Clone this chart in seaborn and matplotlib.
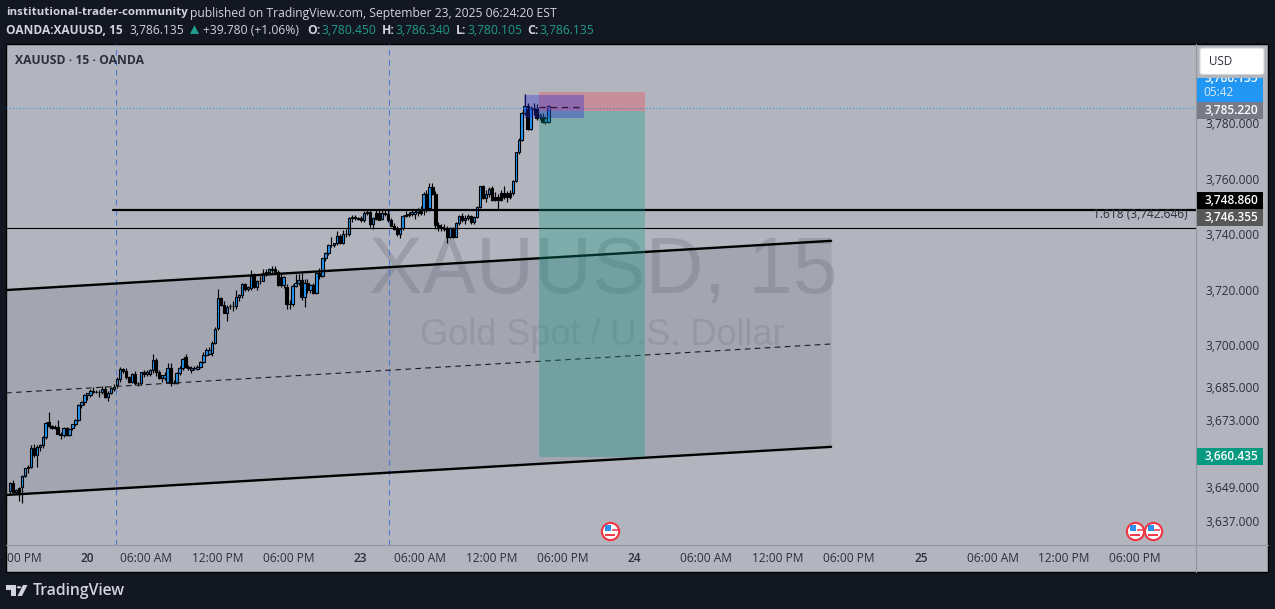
import matplotlib
matplotlib.use("Agg")
import matplotlib.pyplot as plt
import seaborn as sns
from matplotlib.lines import Line2D
from matplotlib.patches import Rectangle, Polygon, Circle, FancyBboxPatch

# 15 minute candles
open_ = [3647.8,3650.4,3647.4,3648.6,3649,3653,3655.8,3656.4,3663,3660.4,
    3663.6,3664,3667,3672.4,3671,3670.8,3670.5,3668.2,3667.8,3670.2,
    3667.8,3670.2,3671.6,3673.2,3678.6,3679.6,3682.2,3682.2,3683.6,3683.4,
    3683.2,3683.2,3684.2,3681.6,3683,3684.4,3685.8,3687.8,3691.4,3690.8,
    3688.6,3687,3689.8,3686.4,3686.4,3690.4,3689.6,3689.6,3691,3694.6,
    3690.4,3688.2,3688.2,3687,3691.8,3686.6,3686.4,3690,3691.8,3695.8,
    3692.2,3691.2,3691.8,3691.6,3692.4,3694,3696.6,3697,3697.2,3700.8,
    3706.1,3717,3714.5,3711.7,3714,3714,3714,3717.3,3718,3722,
    3720.2,3720.8,3725,3721,3723.1,3723.3,3725.9,3726.5,3727.5,3727.3,
    3726.5,3724.5,3721.8,3721,3714.9,3714.9,3721.5,3722.5,3723.5,3717.5,
    3722.3,3720,3721.7,3719,3725.9,3725,3731.3,3733.1,3736,3736,
    3736.7,3739.4,3737,3740,3740,3745.7,3746.3,3745.7,3745.7,3745,
    3747.5,3747.8,3743.5,3747.5,3747.5,3745.5,3747.5,3747.3,3745,3743,
    3741.8,3740,3742.3,3746.5,3746.9,3747.3,3747.3,3748,3749,3749,
    3754.5,3749.3,3757.1,3754.5,3743.3,3742.7,3742,3742.1,3739.1,3742.1,
    3739.1,3743.9,3746.5,3745.1,3745.7,3746.5,3744.5,3746.1,3749.9,3757.3,
    3753,3754.5,3756.5,3753.5,3753.5,3754.7,3754.7,3754.7,3754.7,3754.7,
    3759.1,3769.7,3773.9,3783.5,3786.2,3777.7,3785.3,3785.3,3782.3,3782.3,
    3780.2,3780.45]
high = [3651,3651.6,3648.5,3649,3653.5,3656,3657,3664,3664.5,3664,
    3664.5,3667.5,3672.5,3676,3671.5,3671.5,3673.2,3669,3670.5,3670.5,
    3670.4,3671.8,3673.5,3679,3680,3682.5,3683,3684.2,3685,3684,
    3684,3685.3,3685.5,3683.5,3685,3686,3688.5,3692.4,3692,3692,
    3689,3690.2,3690.8,3687,3690.6,3691,3691,3691.5,3697,3695.5,
    3691,3689.5,3690.5,3693.5,3693.5,3687.5,3690.5,3692.5,3695.5,3697,
    3693,3692.5,3692.5,3693,3694.5,3697.5,3699,3699.5,3701.5,3706.5,
    3720.3,3717.5,3716,3714.5,3715,3716,3720,3718.5,3722.5,3722.5,
    3721.5,3727,3726,3723.5,3725,3727.5,3727.5,3728,3728.5,3728.5,
    3727,3725.5,3725,3722,3716.5,3722,3725.5,3725.5,3726,3724,
    3724,3722,3722.5,3726.5,3728,3731.5,3733.5,3736.5,3739,3737,
    3741,3740,3741.5,3742,3746,3747,3747,3746.3,3746.5,3748.5,
    3749,3749,3746,3749,3749,3749,3749,3749,3745.8,3744,
    3743,3742,3747,3748.5,3748,3749,3749,3749.5,3750,3755,
    3756,3758.5,3758.5,3755.5,3744.5,3743.5,3743.5,3743,3742.5,3742.5,
    3744.5,3747,3747.5,3747,3747.3,3747,3746.5,3750,3757.5,3757.8,
    3756,3757,3757.5,3755,3754.5,3756,3757.5,3755.5,3756,3759.5,
    3769.7,3774.5,3783.8,3790.5,3787,3786,3787,3786.8,3783.5,3783.5,
    3782.5,3786.34]
low = [3647,3647,3646.5,3644,3643.4,3652.5,3654,3655.8,3660,3656.4,
    3662,3663,3666.5,3670.6,3669.8,3670,3668,3666.4,3667,3667.5,
    3667.5,3669.5,3671,3672.8,3677.5,3678.5,3680.5,3681.5,3683,3683,
    3681.5,3682.5,3681,3680,3682.5,3683.5,3684.8,3687,3690,3688,
    3686.5,3686.5,3685.8,3685.5,3685.8,3688.8,3689,3689,3690,3689,
    3688,3687,3687.5,3686.5,3685.5,3686,3686,3689.5,3691.2,3692,
    3691,3690,3691,3691,3692,3693.5,3696,3696.5,3696,3700.5,
    3705.5,3714,3711.5,3708.9,3713,3712.5,3713,3716,3717,3719.5,
    3719.5,3720,3720.5,3720,3722,3723,3725,3725.5,3726,3725.5,
    3721.5,3721,3720.5,3713,3713,3714,3721,3721.8,3716.5,3713.9,
    3719,3719,3718.5,3718.5,3724,3724.5,3730.5,3732.5,3735.5,3735.5,
    3736,3736.5,3736.5,3739,3739.5,3744.5,3745,3745,3744.5,3744.5,
    3747,3742.5,3742,3745,3745,3745,3746.5,3744.5,3742.8,3741.5,
    3739.5,3738.5,3741.5,3746,3746,3746.5,3745.5,3746.5,3747,3747,
    3748,3748.5,3754,3742,3741,3741,3741,3736.7,3738.8,3738.8,
    3738.9,3743.3,3744.5,3743.8,3745,3743.5,3743.8,3745.8,3749.5,3752.5,
    3751.5,3753.5,3752,3752,3749,3752,3752.5,3751.5,3752.5,3754,
    3758.8,3769,3773.5,3783,3777.5,3777.5,3783,3781,3781,3780,
    3779.8,3780.105]
close = [3650.4,3647.4,3648,3647,3653,3655.8,3656.4,3663,3660.4,3663.6,
    3664.2,3667,3672,3671,3670.2,3670.2,3668.2,3667.8,3670.2,3667.8,
    3670,3671.6,3673.2,3678.6,3679.8,3682.2,3682.8,3683.6,3683.4,3683.4,
    3683.4,3684.2,3681.6,3683,3684.6,3685.2,3687.8,3691.4,3690.8,3688.6,
    3687,3689.8,3686.4,3686.4,3690.4,3689.6,3690.6,3691,3694.6,3690.4,
    3688.2,3689.2,3689.4,3691.8,3686.6,3686.4,3690,3691.8,3695,3692.2,
    3691.8,3691.8,3691.8,3692.4,3694,3696.6,3698.4,3698.4,3700.8,3706,
    3717,3714.5,3711.5,3713.7,3714.2,3714,3717.3,3718,3722,3720.2,
    3721,3725,3720.9,3723.1,3723,3725.9,3726.5,3727.5,3727,3726.5,
    3721.8,3721.8,3724.5,3714.9,3715,3721.5,3722.5,3723.5,3717.5,3722.3,
    3720,3721.8,3719,3725.9,3725,3731.3,3733.1,3736,3736,3736.7,
    3739.4,3737,3740,3740,3745.7,3746.3,3745.7,3745.5,3745,3747.5,
    3747.8,3743.5,3745.7,3745.5,3745,3747.5,3747.3,3745,3743,3741.8,
    3740,3742,3746.5,3746.9,3747.3,3747.8,3748,3749,3747.5,3754.5,
    3749,3757.1,3754.5,3743.3,3742.7,3742.1,3742.1,3739.1,3742.1,3739.1,
    3743.9,3746.5,3745.1,3745.7,3746.5,3744.5,3746.1,3749.9,3757.3,3753,
    3754.5,3756.3,3752.3,3752.3,3752.3,3752.3,3753.5,3753.2,3753.5,3759.1,
    3769.7,3773.9,3783.5,3786.2,3777.7,3785.3,3785,3781.7,3782.9,3780.2,
    3781.9,3786.135]

# axis labels
price_ticks = [3780, 3760, 3740, 3720, 3700, 3685, 3673, 3649, 3637]
time_pos = [4.7, 25.9, 45.7, 69.8, 93.8, 117.6, 137.8, 162, 185.9, 209.8,
            233.9, 258.2, 282, 306.2, 330.4, 354.3, 378.2]
time_labels = ['00 PM', '20', '06:00 AM', '12:00 PM', '06:00 PM', '23', '06:00 AM',
               '12:00 PM', '06:00 PM', '24', '06:00 AM', '12:00 PM', '06:00 PM',
               '25', '06:00 AM', '12:00 PM', '06:00 PM']
session_breaks = [35.5, 127.55]
event_bars = [201.7, 378.2, 384.2]

# drawings on the chart
channel_x = [-1.3, 276]
channel_upper = [3719.9, 3737.6]
channel_mid = [3682.9, 3700.5]
channel_lower = [3646.2, 3663.5]
level_x = [34.6, 398.7]
level_price = [3748.7, 3748.7]
fib_x = [-1.3, 398.7]
fib_price = [3742.2, 3742.2]
last_price = 3785.4
short_x = [177.8, 213.4]
short_stop, short_entry, short_target = 3791.2, 3784.4, 3660
box_x = [172.8, 193]
box_price = [3781.8, 3790.1]

BG = '#b2b5be'
DARK = '#131722'
TXT = '#2c2f3a'
LIGHT = '#d1d4dc'
TEAL = '#1f9c8e'
W, H = 1275, 609


def fx(x):
    return x / W


def fy(y):
    return 1 - y / H


sns.set_theme(style="white")
plt.rcParams['font.family'] = ['Open Sans', 'DejaVu Sans']

fig = plt.figure(figsize=(W / 100, H / 100), dpi=100, facecolor=DARK)
fig.add_artist(Rectangle((fx(6), fy(572)), fx(1262), 528.5 / H, transform=fig.transFigure,
                         facecolor=BG, edgecolor='black', linewidth=1, zorder=0))
ax = fig.add_axes([fx(6), fy(545), 1190 / W, 501 / H], facecolor='none', zorder=1)
ax.set_xlim(-1.34, 398.66)
ax.set_ylim(3628.2, 3808.4)

# watermark
ax.text(199.5, 3726.2, 'XAUUSD, 15', fontsize=57.8, family='Liberation Sans', color='#6f7280',
        alpha=0.34, ha='center', va='center', zorder=1)
ax.text(199, 3703.7, 'Gold Spot / U.S. Dollar', fontsize=26, family='Liberation Sans',
        color='#6f7280', alpha=0.26, ha='center', va='center', zorder=1)

# channel
ax.fill_between(channel_x, channel_lower, channel_upper, color='#6a6d80', alpha=0.2,
                linewidth=0, zorder=2)

# candles
colors = ['#2196f3' if c >= o else '#000000' for o, c in zip(open_, close)]
bars = list(range(len(close)))
ax.vlines(bars, low, high, color='black', linewidth=0.85, zorder=3)
ax.bar(bars, [abs(c - o) for o, c in zip(open_, close)], bottom=[min(o, c) for o, c in zip(open_, close)],
       width=0.8, color=colors, edgecolor='black', linewidth=0.8, zorder=3.1)

# lines
sns.lineplot(x=channel_x, y=channel_upper, ax=ax, color='black', linewidth=1.7, zorder=4)
sns.lineplot(x=channel_x, y=channel_lower, ax=ax, color='black', linewidth=1.7, zorder=4)
sns.lineplot(x=channel_x, y=channel_mid, ax=ax, color='#1c1c1c', linewidth=0.8,
             linestyle=(0, (5, 4)), zorder=4)
sns.lineplot(x=level_x, y=level_price, ax=ax, color='black', linewidth=1.6, zorder=4)
sns.lineplot(x=fib_x, y=fib_price, ax=ax, color='black', linewidth=0.8, zorder=4)
ax.axhline(last_price, color='#2196f3', linewidth=0.8, linestyle=(0, (1, 2)), zorder=3.5)
for b in session_breaks:
    ax.axvline(b, color='#4a7bd6', linewidth=0.8, linestyle=(0, (5, 4)), zorder=2.5)

# position boxes
ax.fill_between(short_x, short_target, short_entry, color='#089981', alpha=0.31, linewidth=0, zorder=5)
ax.fill_between(short_x, short_entry, short_stop, color='#f23645', alpha=0.3, linewidth=0, zorder=5)
ax.fill_between(box_x, box_price[0], box_price[1], color='#2a2ad0', alpha=0.35, linewidth=0, zorder=5.1)
ax.plot([short_x[0], box_x[1]], [3785.7, 3785.7], color='#3a1030', linewidth=0.9,
        linestyle=(0, (5, 4)), zorder=5.2)

# event flags
for b in event_bars:
    ax.scatter([b], [3633.2], s=195, color='#f23645', linewidth=0, zorder=6, clip_on=False)
    ax.scatter([b], [3633.2], s=118, color='white', linewidth=0, zorder=6.1, clip_on=False)
    ax.scatter([b], [3631.7], s=60, marker='_', color='#f23645', linewidths=1.4, zorder=6.2)
    ax.scatter([b - 0.75], [3634.2], s=20, marker='s', color='#2f8fee', linewidth=0, zorder=6.3)
    ax.scatter([b + 1.5], [3633.6], s=14, marker='_', color='#f23645', linewidths=1.1, zorder=6.2)

ax.text(1188 / 1196 - 0.0003, 3746.9, '1.618 (3,742.646)', transform=ax.get_yaxis_transform(),
        ha='right', va='center', fontsize=8.6, color=TXT, zorder=7)

# axes
ax.grid(False)
ax.yaxis.tick_right()
ax.set_yticks(price_ticks, [f'{p:,.3f}' for p in price_ticks])
ax.tick_params(axis='y', length=0, pad=6.5, labelsize=8.6, labelcolor=TXT)
ax.set_xticks(time_pos, time_labels)
ax.tick_params(axis='x', length=0, pad=5, labelsize=8.6, labelcolor=TXT)
for lab, txt in zip(ax.get_xticklabels(), time_labels):
    if len(txt) == 2:
        lab.set_fontweight('semibold')
for side in ax.spines:
    ax.spines[side].set_visible(False)
for xs, ys in [((1196, 1196), (44, 572)), ((6, 1268), (545, 545))]:
    fig.add_artist(Line2D([fx(v) for v in xs], [fy(v) for v in ys], color='#9598a1', linewidth=0.9, zorder=0.5))


# price tags on the scale
def tag(top, bottom, color, text, text_y=None):
    fig.add_artist(Rectangle((fx(1197), fy(bottom)), fx(66), (bottom - top) / H, transform=fig.transFigure,
                             facecolor=color, edgecolor='none', zorder=3))
    y = (top + bottom) / 2 if text_y is None else text_y
    return fig.text(fx(1231), fy(y), text, color='white', fontsize=8.6, ha='center', va='center',
                    fontweight='semibold', zorder=4)


t = tag(78, 102, '#2196f3', '3,786.135', 79)
t.set_clip_path(Rectangle((1197, H - 102), 66, 24, transform=None))
t = fig.text(fx(1218), fy(92.5), '05:42', color='#d6e9fb', fontsize=8.6, ha='center', va='center', zorder=4)
tag(102, 118.5, '#787b86', '3,785.220')
tag(192, 208.5, '#000000', '3,748.860')
tag(209, 226, '#575757', '3,746.355')
tag(448, 464.5, '#089981', '3,660.435')
fig.add_artist(FancyBboxPatch((fx(1200), fy(74.5)), fx(64), 26.5 / H, boxstyle='round,pad=0,rounding_size=0.003',
                              transform=fig.transFigure, facecolor='white', edgecolor='#d5d6da',
                              linewidth=0.8, zorder=5))
fig.text(fx(1209), fy(61.5), 'USD', color=TXT, fontsize=8.4, ha='left', va='center', zorder=6)

# header
FS = 8.75
fig.text(fx(6), fy(13), 'institutional-trader-community', color=LIGHT, fontsize=8.25, fontweight='bold', va='center')
fig.text(fx(190), fy(13), 'published on TradingView.com, September 23, 2025 06:24:20 EST', color=LIGHT,
         fontsize=FS, va='center')
fig.text(fx(6), fy(30), 'OANDA:XAUUSD, 15', color=LIGHT, fontsize=8.6, fontweight='bold', va='center')
fig.text(fx(130), fy(30), '3,786.135', color=LIGHT, fontsize=FS, va='center')
fig.add_artist(Polygon([(fx(190), fy(34)), (fx(199), fy(34)), (fx(194.5), fy(25))], transform=fig.transFigure,
                       facecolor=TEAL, edgecolor='none'))
fig.text(fx(203), fy(30), '+39.780 (+1.06%)', color=LIGHT, fontsize=FS, va='center')
for x, lab in [(307, 'O:'), (382, 'H:'), (456, 'L:'), (527, 'C:')]:
    fig.text(fx(x), fy(30), lab, color=LIGHT, fontsize=FS, fontweight='bold', va='center')
for x, val in [(321, '3,780.450'), (395, '3,786.340'), (467, '3,780.105'), (540, '3,786.135')]:
    fig.text(fx(x), fy(30), val, color=TEAL, fontsize=FS, va='center')
fig.text(fx(15), fy(60.5), 'XAUUSD · 15 · OANDA', color=TXT, fontsize=8.7, fontweight='bold', va='center', zorder=5)

# footer logo
for pts in [[(6, 585), (15.5, 585), (15.5, 596), (11, 596), (11, 589.5), (6, 589.5)],
            [(23, 585), (27.5, 585), (22, 596), (17.5, 596)]]:
    fig.add_artist(Polygon([(fx(x), fy(y)) for x, y in pts], transform=fig.transFigure,
                           facecolor=LIGHT, edgecolor='none'))
fig.add_artist(Circle((fx(19), fy(587.3)), 2.3 / W, transform=fig.transFigure, facecolor=LIGHT, edgecolor='none'))
fig.text(fx(33), fy(591), 'TradingView', color=LIGHT, fontsize=11.3, fontweight='semibold', va='center')

fig.savefig('out.png', dpi=100, facecolor=fig.get_facecolor())
